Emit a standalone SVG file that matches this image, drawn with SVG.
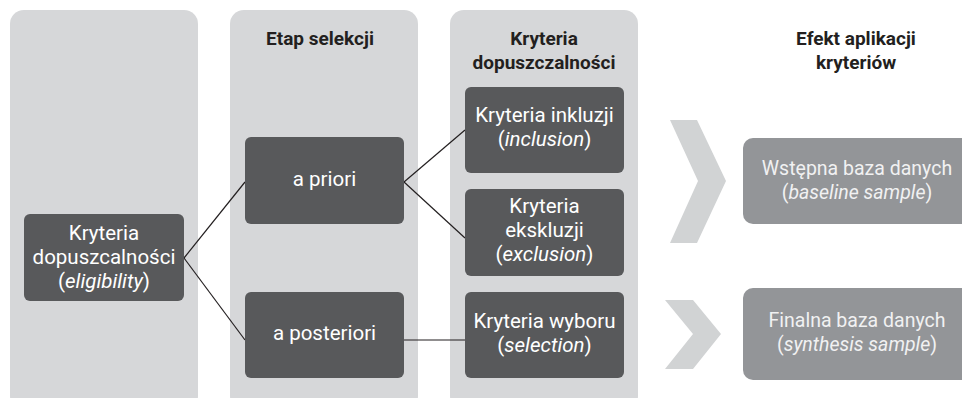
<svg xmlns="http://www.w3.org/2000/svg" width="962" height="398" viewBox="0 0 962 398">
<style>
.panel{fill:#d6d7d9}
.dark{fill:#58595b}
.light{fill:#939598}
.chev{fill:#d1d3d4}
.hdr{font-family:Roboto,"Noto Sans",sans-serif;font-size:19px;font-weight:bold;fill:#231f20;text-anchor:middle}
.t{font-family:Roboto,"Noto Sans",sans-serif;font-size:20.5px;fill:#ffffff;text-anchor:middle}
.t2{font-family:Roboto,"Noto Sans",sans-serif;font-size:19.5px;fill:#f1f1f2;text-anchor:middle}
.conn{stroke:#231f20;stroke-width:1.2;fill:none}
</style>
<rect width="962" height="398" fill="#ffffff"/>
<g id="panels">
<rect class="panel" x="10" y="10" width="188" height="400" rx="14"/>
<rect class="panel" x="230" y="10" width="188" height="400" rx="14"/>
<rect class="panel" x="450" y="10" width="188" height="400" rx="14"/>
</g>
<g id="headers">
<text class="hdr" x="320" y="45">Etap selekcji</text>
<text class="hdr" x="544" y="45">Kryteria</text>
<text class="hdr" x="544" y="69">dopuszczalności</text>
<text class="hdr" x="856" y="45">Efekt aplikacji</text>
<text class="hdr" x="856" y="69">kryteriów</text>
</g>
<g id="connectors">
<line class="conn" x1="184" y1="258" x2="245" y2="182"/>
<line class="conn" x1="184" y1="258" x2="245" y2="340"/>
<line class="conn" x1="404" y1="182" x2="465" y2="130"/>
<line class="conn" x1="404" y1="182" x2="465" y2="238"/>
<line class="conn" x1="404" y1="340" x2="465" y2="340"/>
</g>
<g id="node-eligibility">
<rect class="dark" x="24" y="214" width="160" height="87" rx="6"/>
<text class="t" x="104" y="240">Kryteria</text>
<text class="t" x="104" y="264">dopuszcalności</text>
<text class="t" x="104" y="288">(<tspan font-style="italic">eligibility</tspan>)</text>
</g>
<g id="node-apriori">
<rect class="dark" x="245" y="137" width="159" height="87" rx="6"/>
<text class="t" x="324.5" y="186">a priori</text>
</g>
<g id="node-aposteriori">
<rect class="dark" x="245" y="292" width="159" height="86" rx="6"/>
<text class="t" x="324.5" y="340">a posteriori</text>
</g>
<g id="node-inclusion">
<rect class="dark" x="465" y="87" width="159" height="86" rx="6"/>
<text class="t" x="544.5" y="122">Kryteria inkluzji</text>
<text class="t" x="544.5" y="146">(<tspan font-style="italic">inclusion</tspan>)</text>
</g>
<g id="node-exclusion">
<rect class="dark" x="465" y="189" width="159" height="87" rx="6"/>
<text class="t" x="544.5" y="213">Kryteria</text>
<text class="t" x="544.5" y="237">ekskluzji</text>
<text class="t" x="544.5" y="261">(<tspan font-style="italic">exclusion</tspan>)</text>
</g>
<g id="node-selection">
<rect class="dark" x="465" y="292" width="159" height="86" rx="6"/>
<text class="t" x="544.5" y="328">Kryteria wyboru</text>
<text class="t" x="544.5" y="352">(<tspan font-style="italic">selection</tspan>)</text>
</g>
<g id="chevrons">
<polygon class="chev" points="670,120 697,120 726,181 697,243 670,243 698,181"/>
<polygon class="chev" points="665,300 693,300 721,334 693,369 665,369 693,334"/>
</g>
<g id="node-baseline">
<rect class="light" x="743" y="138" width="228" height="86" rx="10"/>
<text class="t2" x="857" y="175">Wstępna baza danych</text>
<text class="t2" x="857" y="199">(<tspan font-style="italic">baseline sample</tspan>)</text>
</g>
<g id="node-synthesis">
<rect class="light" x="743" y="288" width="228" height="92" rx="10"/>
<text class="t2" x="857" y="327">Finalna baza danych</text>
<text class="t2" x="857" y="351">(<tspan font-style="italic">synthesis sample</tspan>)</text>
</g>
</svg>
